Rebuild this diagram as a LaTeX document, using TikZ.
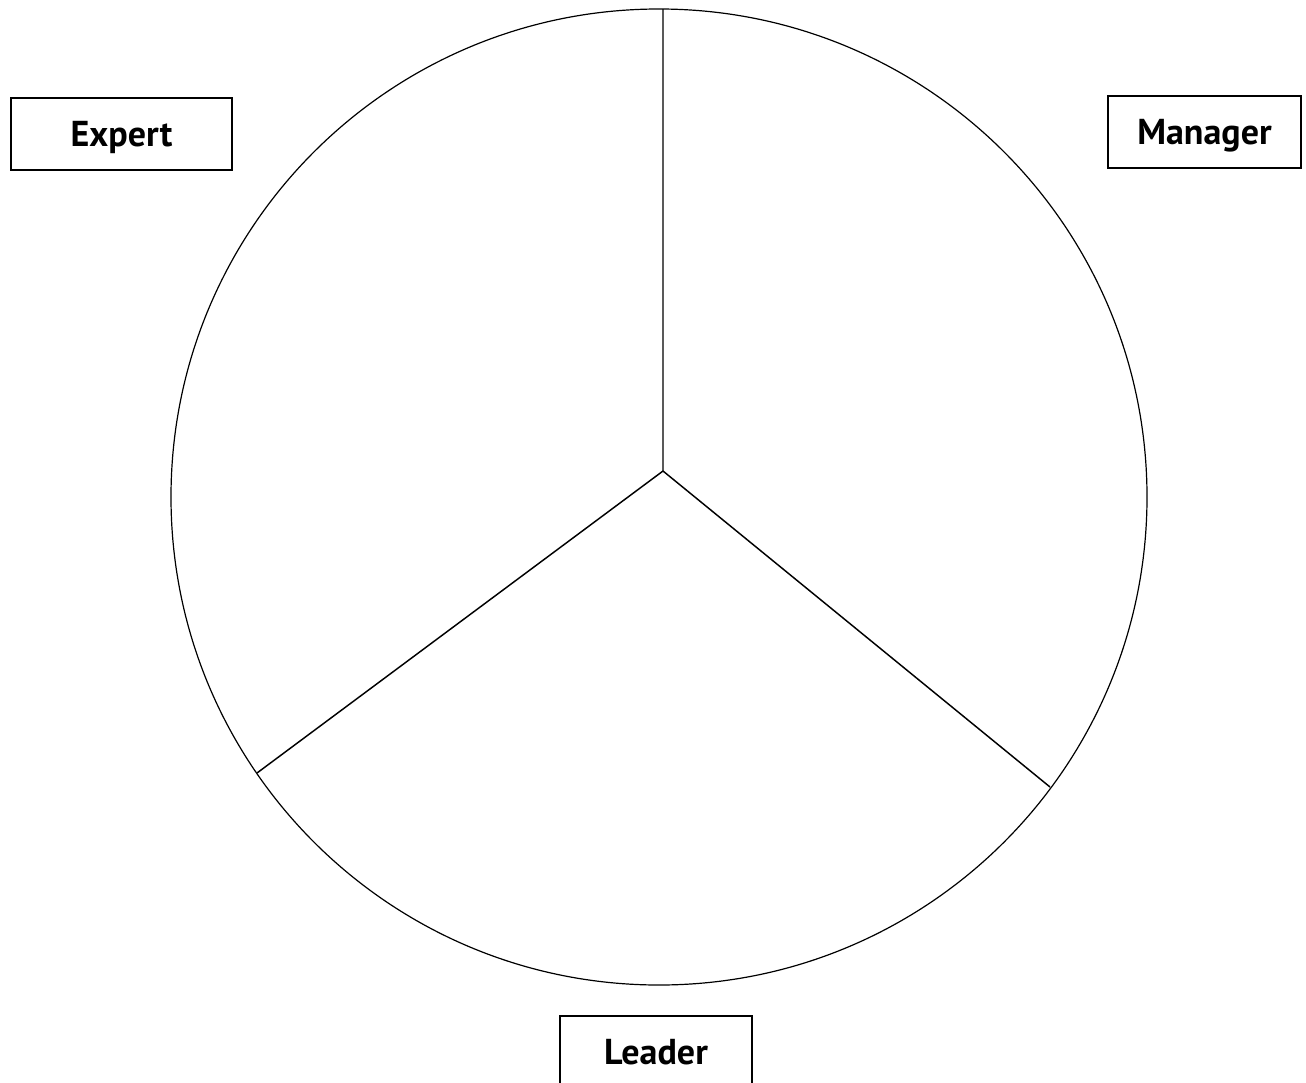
\documentclass[tikz,border=0pt]{standalone}
\usepackage{fontspec}
\setmainfont{PT Sans}
\usepackage{tikz}
\usetikzlibrary{positioning}

\begin{document}
\begin{tikzpicture}[x=0.75pt,y=-0.75pt,
  role/.style={draw,line width=1.5pt,minimum height=54pt,inner sep=0pt,text height=19pt,text depth=0pt,font=\fontsize{27}{30}\selectfont\bfseries}]
\useasboundingbox(0,0)rectangle(1306,1082);
\clip(0,0)rectangle(1306,1082);
\draw[line width=0.9pt](659,497)circle[radius=366pt];
\coordinate(hub)at(663,471);
\coordinate(top)at(663,9);
\coordinate(rgt)at(1050,787);
\coordinate(lft)at(257,773);
\draw[line width=1.1pt](hub)--(top)
(hub)--(rgt)
(hub)--(lft);
\node[role,minimum width=165.75pt](expert)at(121.5,134){Expert};
\node[role,minimum width=144.75pt](manager)at(1204.5,132){Manager};
\node[role,minimum width=144pt](leader)at(656,1052){Leader};
\end{tikzpicture}
\end{document}
